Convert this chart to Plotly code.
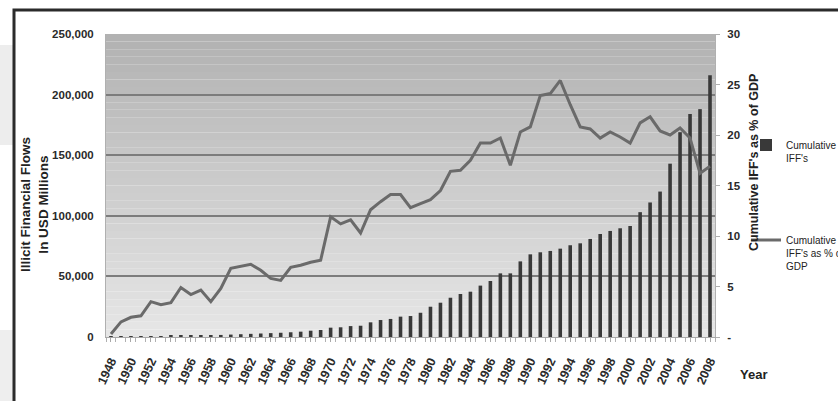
import plotly.graph_objects as go

years = list(range(1948, 2009))
cumulative_iff = [
    300, 400, 500, 600, 700, 800, 900, 1000, 1200, 1300,
    1500, 1700, 2000, 2300, 2600, 2900, 3200, 3500, 3900, 4400,
    5200, 5800, 7700, 8000, 9000, 9300, 12100, 14000, 14900, 16800,
    17300, 20000, 25000, 28300, 32400, 35500, 37400, 42400, 46200, 52500,
    52500, 62400, 68200, 69900, 71000, 72900, 75700, 77300, 80900, 85000,
    87500, 89700, 91600, 103000, 111000, 120000, 143000, 169000, 184000, 188000,
    216000,
]
iff_pct_gdp = [
    0.3, 1.5, 1.95, 2.1, 3.5, 3.2, 3.4, 4.9, 4.2, 4.65,
    3.5, 4.8, 6.8, 7.0, 7.2, 6.6, 5.8, 5.6, 6.9, 7.1,
    7.4, 7.6, 11.9, 11.2, 11.6, 10.3, 12.6, 13.4, 14.1, 14.1,
    12.8, 13.2, 13.6, 14.5, 16.4, 16.5, 17.5, 19.2, 19.2, 19.7,
    17.0, 20.3, 20.8, 23.9, 24.1, 25.4, 23.0, 20.8, 20.6, 19.7,
    20.3, 19.8, 19.2, 21.2, 21.8, 20.4, 20.0, 20.7, 19.7, 16.2,
    16.9,
]
x_tick_years = years[::2]
left_ticks = [0, 50000, 100000, 150000, 200000, 250000]
right_ticks = [0, 5, 10, 15, 20, 25, 30]
right_tick_text = ["-", "5", "10", "15", "20", "25", "30"]

W, H = 838, 401
L, R, T, B = 106, 715, 34, 337
pw, ph = R - L, B - T


def px(xp):
    return (xp - L) / pw


def py(yp):
    return (B - yp) / ph


SANS = "Liberation Sans, Arial, sans-serif"

fig = go.Figure()
fig.add_trace(go.Bar(
    x=years, y=cumulative_iff, name="Cumulative<br>IFF's",
    marker=dict(color="#393939", line=dict(width=0)),
    yaxis="y", legend="legend",
))
fig.add_trace(go.Scatter(
    x=years, y=iff_pct_gdp, name="Cumulative<br>IFF's as % of<br>GDP",
    mode="lines", line=dict(color="#6a6a6a", width=3),
    yaxis="y2", legend="legend2",
))

shapes = []
n = 40
top_c, bot_c = (178, 178, 178), (230, 230, 230)
for i in range(n):
    t = i / (n - 1)
    c = tuple(int(round(top_c[k] + (bot_c[k] - top_c[k]) * t)) for k in range(3))
    shapes.append(dict(
        type="rect", xref="paper", yref="paper", layer="below",
        x0=0, x1=1, y0=1 - (i + 1) / n, y1=1 - i / n,
        fillcolor="rgb(%d,%d,%d)" % c, line=dict(width=0),
    ))
shapes.append(dict(type="rect", xref="paper", yref="paper", layer="below",
                   x0=px(0), x1=px(13), y0=py(145), y1=py(45),
                   fillcolor="#ededed", line=dict(width=0)))
shapes.append(dict(type="rect", xref="paper", yref="paper", layer="below",
                   x0=px(0), x1=px(13), y0=py(420), y1=py(330),
                   fillcolor="#eeeeee", line=dict(width=0)))
shapes.append(dict(type="rect", xref="paper", yref="paper", layer="above",
                   x0=px(14), x1=px(900), y0=py(460), y1=py(10),
                   fillcolor="rgba(0,0,0,0)", line=dict(color="#2b2b2b", width=3)))

annotations = [
    dict(text="<b>Illicit Financial Flows<br>In USD Millions</b>", textangle=-90,
         x=px(34), y=py(205), xref="paper", yref="paper", showarrow=False,
         xanchor="center", yanchor="middle",
         font=dict(family=SANS, size=13.5, color="#222"), align="center"),
    dict(text="<b>Cumulative IFF's as % of GDP</b>", textangle=-90,
         x=px(754), y=py(163), xref="paper", yref="paper", showarrow=False,
         xanchor="center", yanchor="middle",
         font=dict(family=SANS, size=12.5, color="#222")),
    dict(text="<b>Year</b>", x=px(753), y=py(374), xref="paper", yref="paper",
         xanchor="center", yanchor="middle",
         showarrow=False, font=dict(family=SANS, size=13, color="#222")),
]

fig.update_layout(
    width=W, height=H,
    margin=dict(l=L, r=W - R, t=T, b=H - B, autoexpand=False),
    paper_bgcolor="white", plot_bgcolor="rgba(0,0,0,0)",
    bargap=0.64,
    shapes=shapes, annotations=annotations,
    xaxis=dict(
        range=[1947.5, 2008.5], tickvals=x_tick_years,
        ticktext=[str(y) for y in x_tick_years], tickangle=-65,
        tickfont=dict(family=SANS, size=12.5, color="#2a2a2a", weight="bold"),
        showgrid=False, showline=True, linecolor="#a8a8a8", linewidth=1,
        ticks="outside", ticklen=4, tickcolor="#a8a8a8",
        ticklabelstandoff=7,
        minor=dict(ticks="outside", ticklen=4, tickcolor="#b0b0b0", dtick=1, tick0=1947.5),
    ),
    yaxis=dict(
        range=[0, 250000], tickvals=left_ticks,
        ticktext=[f"{v:,}" for v in left_ticks],
        tickfont=dict(family=SANS, size=11.5, color="#2a2a2a", weight="bold"),
        showgrid=True, gridcolor="#7c7c7c", gridwidth=2,
        showline=True, linecolor="#b0b0b0", ticks="", ticklabelstandoff=9,
        zeroline=False,
    ),
    yaxis2=dict(
        range=[0, 30], overlaying="y", side="right", tickvals=right_ticks,
        ticktext=right_tick_text,
        tickfont=dict(family=SANS, size=11.5, color="#2a2a2a", weight="bold"),
        showgrid=False, showline=True, linecolor="#b0b0b0",
        ticks="outside", ticklen=4, tickcolor="#b0b0b0", ticklabelstandoff=5,
        zeroline=False,
    ),
    legend=dict(
        x=px(746), y=py(132), xanchor="left", yanchor="top", valign="top",
        font=dict(family=SANS, size=10, color="#222"),
        bgcolor="rgba(0,0,0,0)", borderwidth=0, itemwidth=30,
    ),
    legend2=dict(
        x=px(746), y=py(227), xanchor="left", yanchor="top", valign="top",
        font=dict(family=SANS, size=10, color="#222"),
        bgcolor="rgba(0,0,0,0)", borderwidth=0, itemwidth=30,
    ),
    showlegend=True,
)

fig.write_html("out.html")
